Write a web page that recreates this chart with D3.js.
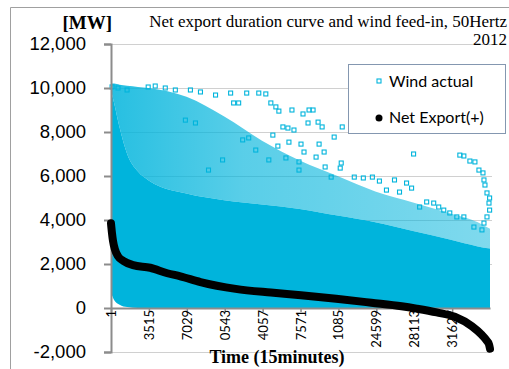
<!DOCTYPE html>
<html>
<head>
<meta charset="utf-8">
<script src="https://cdn.jsdelivr.net/npm/d3@7"></script>
<style>
  body { margin: 0; background: #fff; }
  svg { display: block; }
</style>
</head>
<body>
<div id="chart-container"></div>
<script>
// y axis ticks
const yTicks = [-2000, 0, 2000, 4000, 6000, 8000, 10000, 12000];

// x axis: 15-minute intervals of 2012, tick positions and the labels as printed
const xTickIdx = [1, 3515, 7029, 10543, 14057, 17571, 21085, 24599, 28113, 31627];
const xTickLabels = ["1", "3515", "7029", "0543", "4057", "7571", "1085", "24599", "28113", "31627"];

// net export duration curve (index, MW)
const exportIdx = [1, 93, 186, 373, 652, 1118, 2050, 3635, 5220, 6431, 8295, 11557, 14819, 17615, 20877, 24139, 26935, 28333, 30197, 31874, 33458, 34390, 34856, 35043, 35136];
const exportMW = [3850, 3400, 3050, 2650, 2350, 2150, 1950, 1830, 1580, 1440, 1180, 870, 700, 580, 420, 240, 80, -30, -200, -400, -830, -1230, -1500, -1650, -1850];

// wind feed-in: envelope of the dense cloud
const windEnvIdx = [1, 300, 800, 1500, 2500, 3500, 7000, 10500, 14000, 17500, 21000, 24500, 28000, 31500, 34000, 35136];
const windCoreLow = [700, 350, 150, 40, 0, 0, 0, 0, 0, 0, 0, 0, 0, 0, 0, 0];
const windCoreHigh = [9900, 9300, 8200, 7000, 6200, 5800, 5200, 4900, 4700, 4500, 4200, 3900, 3500, 3100, 2800, 2700];
const windSpeckleHigh = [10200, 10200, 10150, 10100, 10050, 10000, 9600, 8700, 7600, 6700, 6000, 5300, 4800, 4300, 3900, 3600];

// wind feed-in: single readings outside the dense cloud (index, MW)
const windPoints = [
  [100, 10050], [652, 10000], [1491, 9910], [3448, 10045], [4101, 10090], [5033, 10000],
  [5965, 9910], [7363, 9910], [8295, 9820], [9693, 9680], [11091, 9770], [11370, 9320],
  [6897, 8540], [7829, 8410], [10345, 6730], [9040, 6270],
  [12582, 9770], [13700, 9770], [14353, 9730], [14819, 9320], [11836, 9320], [15285, 9140],
  [15564, 8950], [16776, 9000], [17801, 8820], [18360, 9000], [18733, 9000], [18267, 8410],
  [19199, 8450], [19572, 8230], [21436, 8230], [20690, 7770], [15937, 8230], [16403, 8180],
  [16962, 8090], [15005, 7860], [15471, 7360], [16496, 7540], [17615, 7450], [19292, 7450],
  [19758, 7090], [19013, 6860], [17894, 7090], [17428, 6640], [19852, 6410], [21250, 6360],
  [21343, 6590], [20411, 5950], [22554, 5950], [23393, 5910], [17428, 6270], [16217, 6820],
  [14632, 6730], [13421, 7180], [12768, 7730], [12209, 7640],
  [28053, 7000], [24232, 5950], [24884, 5770], [26282, 5820], [27401, 5680], [27867, 5450],
  [29265, 4820], [29917, 4770], [30383, 4590], [30849, 4450], [31408, 4320], [32061, 4140],
  [32713, 4140], [33645, 3680], [25537, 5360], [26748, 5270], [28612, 4590],
  [32340, 6950], [32713, 6910], [33272, 6680], [33738, 6640], [34111, 6270], [34484, 6140],
  [34577, 5820], [34670, 5590], [34857, 5230], [35100, 5000], [35043, 4770], [35100, 4450],
  [34857, 4140], [34577, 3860], [34390, 3550]
];

const width = 509;
const height = 369;
const margin = { top: 44, right: 19, bottom: 17, left: 111 };
const windColor = "#00b4dc";
const axisColor = "#8c8c8c";
const gridColor = "#d0d0d0";

const svg = d3.select("#chart-container")
  .append("svg")
  .attr("width", width)
  .attr("height", height);

const chartWidth = width - margin.left - margin.right;
const chartHeight = height - margin.top - margin.bottom;

const x = d3.scaleLinear().domain([1, 35136]).range([margin.left, margin.left + chartWidth]);
const y = d3.scaleLinear().domain([-2000, 12000]).range([margin.top + chartHeight, margin.top]);

// speckled part of the cloud fades to the right
const grad = svg.append("defs").append("linearGradient")
  .attr("id", "speckle")
  .attr("x1", "0").attr("x2", "1").attr("y1", "0").attr("y2", "0");
grad.append("stop").attr("offset", "0").attr("stop-color", windColor).attr("stop-opacity", 0.85);
grad.append("stop").attr("offset", "0.35").attr("stop-color", windColor).attr("stop-opacity", 0.65);
grad.append("stop").attr("offset", "1").attr("stop-color", windColor).attr("stop-opacity", 0.5);

// outer frame
svg.append("path")
  .attr("d", `M10.5,${height} V7.5 H${width}`)
  .attr("fill", "none")
  .attr("stroke", "#a0a0a0");

// gridlines
svg.append("g")
  .selectAll("line")
  .data(yTicks.filter(d => d !== 0))
  .enter()
  .append("line")
  .attr("x1", x(1))
  .attr("x2", x(35136) + 2)
  .attr("y1", d => Math.round(y(d)) + 0.5)
  .attr("y2", d => Math.round(y(d)) + 0.5)
  .attr("stroke", gridColor);

// wind cloud
const windEnv = windEnvIdx.map((d, i) => ({ i: d, lo: windCoreLow[i], hi: windCoreHigh[i], sp: windSpeckleHigh[i] }));

svg.append("path")
  .datum(windEnv)
  .attr("d", d3.area().x(d => x(d.i)).y0(d => y(d.hi)).y1(d => y(d.sp)).curve(d3.curveMonotoneX))
  .attr("fill", "url(#speckle)");

svg.append("path")
  .datum(windEnv)
  .attr("d", d3.area().x(d => x(d.i)).y0(d => y(d.lo)).y1(d => y(d.hi)).curve(d3.curveMonotoneX))
  .attr("fill", windColor);

svg.append("g")
  .selectAll("rect")
  .data(windPoints)
  .enter()
  .append("rect")
  .attr("x", d => x(d[0]) - 2)
  .attr("y", d => y(d[1]) - 2)
  .attr("width", 4)
  .attr("height", 4)
  .attr("fill", "none")
  .attr("stroke", windColor)
  .attr("stroke-width", 1.1);

// y axis
const fmt = d3.format(",");
const yAxis = svg.append("g")
  .attr("transform", `translate(${margin.left},0)`)
  .call(d3.axisLeft(y).tickValues(yTicks).tickSize(7).tickPadding(18).tickFormat(d => fmt(d).replace("\u2212", "-")));
yAxis.select(".domain").attr("stroke", axisColor).attr("stroke-width", 2);
yAxis.selectAll(".tick line").attr("stroke", axisColor).attr("stroke-width", 2);
yAxis.selectAll(".tick text")
  .attr("fill", "#000")
  .style("font-family", "'Liberation Sans', Arial, sans-serif")
  .style("font-size", "18.5px");

// x axis at zero
const xAxis = svg.append("g")
  .attr("transform", `translate(0,${y(0)})`)
  .call(d3.axisBottom(x).tickValues(xTickIdx).tickSize(4).tickSizeOuter(0).tickFormat((d, i) => xTickLabels[i]));
xAxis.select(".domain").attr("stroke", axisColor).attr("stroke-width", 2);
xAxis.selectAll(".tick line").attr("stroke", axisColor).attr("stroke-width", 1.5);
xAxis.selectAll(".tick text")
  .attr("fill", "#000")
  .attr("transform", "rotate(-90)")
  .attr("text-anchor", "end")
  .attr("x", -2)
  .attr("y", 0)
  .attr("dy", "0.35em")
  .style("font-family", "Lato, 'Open Sans', sans-serif")
  .style("font-size", "13px");

// net export
svg.append("path")
  .datum(exportIdx.map((d, i) => [d, exportMW[i]]))
  .attr("d", d3.line().x(d => x(d[0])).y(d => y(d[1])).curve(d3.curveMonotoneX))
  .attr("fill", "none")
  .attr("stroke", "#000")
  .attr("stroke-width", 8)
  .attr("stroke-linecap", "round");

// legend
const legend = svg.append("g");
legend.append("rect")
  .attr("x", 348.5).attr("y", 64.5)
  .attr("width", 157).attr("height", 69)
  .attr("fill", "#fff")
  .attr("stroke", "#8497b0");
legend.append("rect")
  .attr("x", 377).attr("y", 79)
  .attr("width", 4).attr("height", 4)
  .attr("fill", "none")
  .attr("stroke", windColor)
  .attr("stroke-width", 1.1);
legend.append("circle")
  .attr("cx", 379).attr("cy", 118).attr("r", 3.5)
  .attr("fill", "#000");
legend.selectAll("text")
  .data(["Wind actual", "Net Export(+)"])
  .enter()
  .append("text")
  .attr("x", 389)
  .attr("y", (d, i) => 87 + i * 36)
  .style("font-family", "Lato, 'Open Sans', sans-serif")
  .style("font-size", "16px")
  .text(d => d);

// titles
svg.append("text")
  .attr("x", 112).attr("y", 29)
  .attr("text-anchor", "end")
  .style("font-family", "'Liberation Serif', 'Times New Roman', serif")
  .style("font-weight", "bold")
  .style("font-size", "19px")
  .text("[MW]");

svg.append("text")
  .attr("x", 507).attr("y", 27)
  .attr("text-anchor", "end")
  .style("font-family", "'Liberation Serif', 'Times New Roman', serif")
  .style("font-size", "17px")
  .text("Net export duration curve and wind feed-in, 50Hertz");

svg.append("text")
  .attr("x", 507).attr("y", 45)
  .attr("text-anchor", "end")
  .style("font-family", "'Liberation Serif', 'Times New Roman', serif")
  .style("font-size", "17px")
  .text("2012");

svg.append("text")
  .attr("x", 277).attr("y", 363)
  .attr("text-anchor", "middle")
  .style("font-family", "'Liberation Serif', 'Times New Roman', serif")
  .style("font-weight", "bold")
  .style("font-size", "18px")
  .text("Time (15minutes)");
</script>
</body>
</html>
